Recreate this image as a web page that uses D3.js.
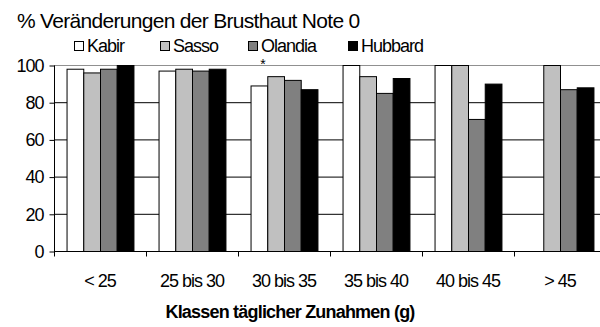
<!DOCTYPE html>
<html>
<head>
<meta charset="utf-8">
<script src="https://cdn.jsdelivr.net/npm/d3@7"></script>
<style>
  html, body { margin: 0; padding: 0; background: #fff; }
  svg { display: block; font-family: "Liberation Sans", Arial, sans-serif; }
</style>
</head>
<body>
<svg id="chart" width="600" height="327"></svg>
<script>
// Weight-gain classes and breeds
const categories = ["< 25", "25 bis 30", "30 bis 35", "35 bis 40", "40 bis 45", "> 45"];
const series = ["Kabir", "Sasso", "Olandia", "Hubbard"];
const kabir   = [98, 97, 89, 100, 100, null];
const sasso   = [96, 98, 94, 94, 100, 100];
const olandia = [98, 97, 92, 85, 71, 87];
const hubbard = [100, 98, 87, 93, 90, 88];
const yTicks = [0, 20, 40, 60, 80, 100];
const colors = ["#ffffff", "#c0c0c0", "#808080", "#000000"];

const values = [kabir, sasso, olandia, hubbard];
const rows = categories.map((c, i) => ({
  cat: c,
  vals: series.map((s, j) => ({ key: s, v: values[j][i], j }))
}));

const svg = d3.select("#chart");
const plotLeft = 54, plotRight = 606, plotTop = 65, plotBottom = 251;

const x0 = d3.scaleBand().domain(categories).range([plotLeft, plotRight]).paddingInner(0).paddingOuter(0);
const x1 = d3.scaleBand().domain(series).range([0, x0.bandwidth()]).paddingInner(0).paddingOuter(0.75);
const y = d3.scaleLinear().domain([0, 100]).range([plotBottom, plotTop]);

// Horizontal gridlines
svg.append("g").selectAll("line").data(yTicks.filter(t => t > 0)).join("line")
  .attr("x1", plotLeft).attr("x2", plotRight)
  .attr("y1", d => y(d) + 0.5).attr("y2", d => y(d) + 0.5)
  .attr("stroke", d => d === 100 ? "#909090" : "#000")
  .attr("stroke-width", 1);

// Bars
const groups = svg.append("g").selectAll("g").data(rows).join("g")
  .attr("transform", d => `translate(${x0(d.cat)},0)`);
groups.selectAll("rect").data(d => d.vals.filter(v => v.v != null)).join("rect")
  .attr("x", d => x1(d.key) + 0.5)
  .attr("y", d => y(d.v) + 0.5)
  .attr("width", x1.bandwidth())
  .attr("height", d => y(0) - y(d.v))
  .attr("fill", d => colors[d.j])
  .attr("stroke", "#000")
  .attr("stroke-width", 1);

// Y axis
const yAxis = d3.axisLeft(y).tickValues(yTicks).tickSize(5).tickPadding(6);
const gy = svg.append("g").attr("transform", `translate(${plotLeft + 0.5},0.5)`).call(yAxis);
gy.select(".domain").attr("d", `M0,${plotTop}V${plotBottom}`).attr("stroke", "#000");
gy.selectAll(".tick text").attr("font-size", 18).attr("fill", "#000")
  .attr("font-family", "Liberation Sans, Arial, sans-serif").attr("letter-spacing", -1);
gy.selectAll(".tick line").attr("stroke", "#000");

// X axis with ticks on category boundaries
const gx = svg.append("g").attr("transform", `translate(0,${plotBottom + 0.5})`);
gx.append("line").attr("x1", plotLeft).attr("x2", plotRight).attr("stroke", "#000");
const bounds = categories.map(c => x0(c)).concat([plotRight]);
gx.selectAll("line.tk").data(bounds).join("line").attr("class", "tk")
  .attr("x1", d => Math.round(d) + 0.5).attr("x2", d => Math.round(d) + 0.5)
  .attr("y1", 0).attr("y2", 5).attr("stroke", "#000");
gx.selectAll("text").data(categories).join("text")
  .attr("x", d => x0(d) + x0.bandwidth() / 2)
  .attr("y", 35)
  .attr("text-anchor", "middle")
  .attr("font-size", 18)
  .attr("letter-spacing", -1)
  .text(d => d);

// Axis title
svg.append("text")
  .attr("x", 290).attr("y", 318)
  .attr("text-anchor", "middle")
  .attr("font-size", 18).attr("font-weight", "bold")
  .attr("letter-spacing", -0.8)
  .text("Klassen täglicher Zunahmen (g)");

// Chart title
svg.append("text")
  .attr("x", 17).attr("y", 28)
  .attr("font-size", 21)
  .attr("letter-spacing", -0.7)
  .text("% Veränderungen der Brusthaut Note 0");

// Legend
const legendX = [74, 160, 248, 348];
const lg = svg.append("g").selectAll("g").data(series).join("g")
  .attr("transform", (d, i) => `translate(${legendX[i]},41)`);
lg.append("rect").attr("x", 0.5).attr("y", 0.5).attr("width", 9).attr("height", 9)
  .attr("fill", (d, i) => colors[i]).attr("stroke", "#000");
lg.append("text").attr("x", 13).attr("y", 11)
  .attr("font-size", 18).attr("letter-spacing", -1)
  .text(d => d);

// Significance marker above the 30–35 g group
const k3 = categories[2];
svg.append("text")
  .attr("x", x0(k3) + x1("Kabir") + x1.bandwidth() / 2 + 4)
  .attr("y", 69)
  .attr("text-anchor", "middle")
  .attr("font-size", 14)
  .text("*");
</script>
</body>
</html>
